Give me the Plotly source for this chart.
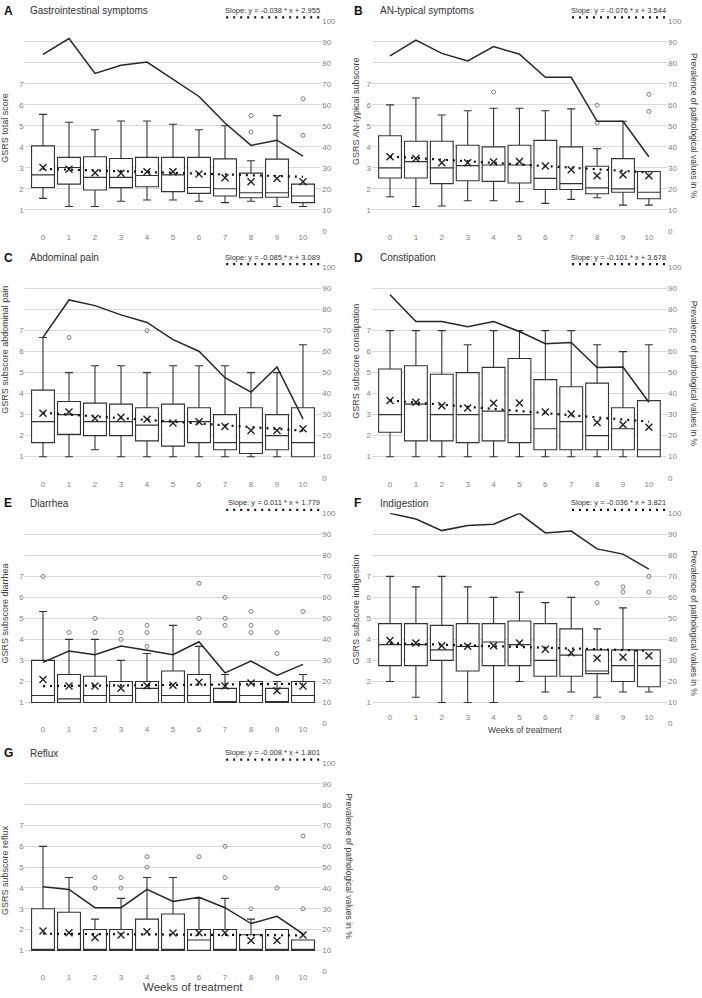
import plotly.graph_objects as go

W, H = 702, 998
weeks = list(range(11))
week_labels = [str(w) for w in weeks]

# ---------------- data ----------------
# A Gastrointestinal symptoms
A_lo = [1.55, 1.16, 1.16, 1.41, 1.47, 1.47, 1.41, 1.35, 1.41, 1.16, 1.16]
A_q1 = [2.07, 2.23, 1.95, 2.06, 2.10, 1.87, 1.79, 1.66, 1.58, 1.60, 1.35]
A_med = [2.67, 3.02, 2.55, 2.55, 2.64, 2.67, 2.07, 2.01, 1.82, 1.82, 1.66]
A_q3 = [4.05, 3.50, 3.53, 3.45, 3.50, 3.50, 3.50, 3.43, 2.75, 3.42, 2.23]
A_hi = [5.55, 5.17, 4.82, 5.23, 5.23, 5.08, 4.82, 5.01, 3.34, 5.49, 2.23]
A_mean = [3.02, 2.94, 2.77, 2.74, 2.82, 2.82, 2.71, 2.53, 2.34, 2.50, 2.34]
A_out_x = [8, 8, 10, 10]
A_out_y = [5.49, 4.71, 6.29, 4.55]
A_prev = [84.0, 91.6, 75.0, 78.9, 80.4, 72.2, 64.0, 51.4, 40.7, 43.2, 35.6]
A_slope, A_icpt = -0.038, 2.955

# B AN-typical symptoms
B_lo = [1.63, 1.16, 1.19, 1.44, 1.44, 1.39, 1.31, 1.50, 1.58, 1.23, 1.23]
B_q1 = [2.52, 2.52, 2.25, 2.39, 2.36, 2.28, 1.97, 1.97, 1.77, 1.84, 1.53]
B_med = [3.00, 3.30, 3.00, 3.11, 3.14, 3.14, 2.50, 2.25, 2.05, 2.00, 1.84]
B_q3 = [4.53, 4.27, 4.27, 4.08, 4.00, 4.08, 4.31, 4.00, 3.08, 3.44, 2.83]
B_hi = [6.00, 6.33, 5.52, 5.72, 5.84, 5.84, 5.72, 5.81, 3.92, 5.22, 2.83]
B_mean = [3.53, 3.45, 3.25, 3.25, 3.28, 3.31, 3.09, 2.91, 2.63, 2.67, 2.63]
B_out_x = [4, 8, 8, 10, 10]
B_out_y = [6.61, 5.98, 5.14, 6.50, 5.69]
B_prev = [83.3, 90.8, 84.5, 80.9, 87.8, 84.1, 73.1, 73.1, 52.2, 52.2, 35.3]
B_slope, B_icpt = -0.076, 3.544

# C Abdominal pain
C_lo = [1.00, 1.00, 1.33, 1.00, 1.00, 1.00, 1.00, 1.00, 1.00, 1.00, 1.00]
C_q1 = [1.67, 2.06, 2.00, 2.00, 1.75, 1.50, 1.67, 1.33, 1.15, 1.33, 1.00]
C_med = [2.67, 3.00, 2.67, 2.67, 2.50, 2.67, 2.67, 1.67, 1.67, 2.00, 1.67]
C_q3 = [4.17, 3.63, 3.55, 3.50, 3.33, 3.50, 3.33, 3.00, 3.33, 3.00, 3.33]
C_hi = [6.67, 5.00, 5.33, 5.33, 5.00, 5.33, 5.33, 5.33, 5.00, 5.00, 6.33]
C_mean = [3.07, 3.13, 2.83, 2.88, 2.78, 2.60, 2.66, 2.44, 2.25, 2.25, 2.33]
C_out_x = [1, 4]
C_out_y = [6.67, 7.00]
C_prev = [66.8, 84.6, 81.9, 77.5, 73.9, 65.7, 60.2, 47.6, 40.7, 52.7, 28.0]
C_slope, C_icpt = -0.085, 3.089

# D Constipation
D_lo = [1.00, 1.00, 1.00, 1.00, 1.00, 1.00, 1.00, 1.00, 1.00, 1.00, 1.00]
D_q1 = [2.16, 1.75, 1.75, 1.67, 1.75, 1.67, 1.33, 1.33, 1.33, 1.33, 1.00]
D_med = [3.00, 3.50, 3.00, 3.00, 3.17, 3.00, 2.33, 2.67, 2.00, 2.33, 1.33]
D_q3 = [5.17, 5.33, 4.92, 5.00, 5.25, 5.67, 4.67, 4.33, 4.50, 3.33, 3.67]
D_hi = [7.00, 7.00, 7.00, 6.33, 7.00, 7.00, 7.00, 7.00, 6.33, 6.00, 6.33]
D_mean = [3.67, 3.59, 3.43, 3.32, 3.54, 3.55, 3.13, 3.03, 2.63, 2.52, 2.40]
D_out_x = []
D_out_y = []
D_prev = [87.1, 74.3, 74.3, 71.9, 74.3, 69.6, 63.8, 64.4, 52.4, 52.7, 35.9]
D_slope, D_icpt = -0.101, 3.678

# E Diarrhea
E_lo = [1.00, 1.00, 1.00, 1.00, 1.00, 1.00, 1.00, 1.00, 1.00, 1.00, 1.00]
E_q1 = [1.00, 1.00, 1.00, 1.00, 1.00, 1.00, 1.00, 1.00, 1.00, 1.00, 1.00]
E_med = [1.33, 1.17, 1.33, 1.33, 1.67, 1.33, 1.33, 1.00, 1.33, 1.00, 1.33]
E_q3 = [3.00, 2.33, 2.25, 2.00, 2.00, 2.50, 2.33, 1.67, 2.00, 1.67, 2.00]
E_hi = [5.33, 4.00, 4.00, 3.00, 3.33, 4.67, 3.67, 2.33, 2.00, 2.00, 2.33]
E_mean = [2.09, 1.78, 1.78, 1.67, 1.80, 1.82, 1.96, 1.78, 1.93, 1.56, 1.78]
E_out_x = [0, 1, 2, 2, 3, 3, 4, 4, 4, 6, 6, 6, 7, 7, 7, 8, 8, 8, 9, 9, 10]
E_out_y = [7.00, 4.33, 4.33, 5.00, 4.00, 4.33, 3.67, 4.33, 4.67, 4.33, 5.00, 6.67,
           4.67, 5.00, 6.00, 4.33, 4.67, 5.33, 3.33, 4.33, 5.33]
E_prev = [29.1, 34.5, 32.7, 36.9, 34.8, 32.7, 38.9, 24.1, 29.7, 22.9, 28.1]
E_slope, E_icpt = 0.011, 1.779

# F Indigestion
F_lo = [2.00, 1.25, 1.00, 1.00, 1.00, 2.00, 1.50, 1.50, 1.25, 1.50, 1.50]
F_q1 = [2.75, 2.75, 3.00, 2.50, 2.75, 2.75, 2.25, 2.25, 2.37, 2.00, 1.75]
F_med = [3.75, 3.75, 3.50, 3.67, 3.88, 3.75, 3.00, 3.25, 2.50, 2.75, 2.75]
F_q3 = [4.75, 4.75, 4.67, 4.75, 4.75, 4.88, 4.75, 4.50, 3.50, 3.50, 3.50]
F_hi = [7.00, 6.50, 7.00, 6.50, 6.00, 6.25, 5.75, 6.00, 4.50, 5.50, 3.50]
F_mean = [3.95, 3.83, 3.70, 3.67, 3.70, 3.83, 3.53, 3.36, 3.10, 3.15, 3.22]
F_out_x = [8, 8, 9, 9, 10, 10]
F_out_y = [5.75, 6.67, 6.25, 6.50, 6.25, 7.00]
F_prev = [100.0, 97.3, 91.8, 94.2, 94.8, 100.0, 90.7, 91.6, 83.1, 80.6, 73.5]
F_slope, F_icpt = -0.036, 3.821

# G Reflux
G_lo = [1.00, 1.00, 1.00, 1.00, 1.00, 1.00, 1.00, 1.00, 1.00, 1.00, 1.00]
G_q1 = [1.00, 1.00, 1.00, 1.00, 1.00, 1.00, 1.00, 1.00, 1.00, 1.00, 1.00]
G_med = [1.00, 1.00, 1.00, 1.00, 1.00, 1.00, 1.50, 1.00, 1.00, 1.00, 1.00]
G_q3 = [3.00, 2.83, 2.00, 2.00, 2.50, 2.75, 2.00, 2.00, 1.75, 2.00, 1.50]
G_hi = [6.00, 4.50, 2.50, 3.50, 4.50, 4.50, 3.50, 3.50, 2.50, 2.00, 1.50]
G_mean = [1.93, 1.85, 1.62, 1.74, 1.90, 1.84, 1.85, 1.85, 1.47, 1.47, 1.74]
G_out_x = [2, 2, 3, 3, 4, 4, 6, 7, 7, 8, 9, 10, 10]
G_out_y = [4.00, 4.50, 4.00, 4.50, 5.00, 5.50, 5.50, 4.50, 6.00, 3.00, 4.00, 3.00, 6.50]
G_prev = [40.6, 39.3, 30.5, 30.5, 39.3, 33.5, 35.5, 30.5, 22.9, 26.4, 17.9]
G_slope, G_icpt = -0.008, 1.801

letters = ["A", "B", "C", "D", "E", "F", "G"]
titles = ["Gastrointestinal symptoms", "AN-typical symptoms", "Abdominal pain",
          "Constipation", "Diarrhea", "Indigestion", "Reflux"]
ytitles = ["GSRS total score", "GSRS AN-typical subscore", "GSRS subscore abdominal pain",
           "GSRS subscore constipation", "GSRS subscore diarrhea", "GSRS subscore indigestion",
           "GSRS subscore reflux"]
right_title = "Prevalence of pathological values in %"
x_title = "Weeks of treatment"
score_ticks = list(range(0, 11))
score_text = ["", "1", "2", "3", "4", "5", "6", "7", "", "", ""]
prev_ticks = list(range(0, 101, 10))

panels = [
    (A_lo, A_q1, A_med, A_q3, A_hi, A_mean, A_out_x, A_out_y, A_prev, A_slope, A_icpt),
    (B_lo, B_q1, B_med, B_q3, B_hi, B_mean, B_out_x, B_out_y, B_prev, B_slope, B_icpt),
    (C_lo, C_q1, C_med, C_q3, C_hi, C_mean, C_out_x, C_out_y, C_prev, C_slope, C_icpt),
    (D_lo, D_q1, D_med, D_q3, D_hi, D_mean, D_out_x, D_out_y, D_prev, D_slope, D_icpt),
    (E_lo, E_q1, E_med, E_q3, E_hi, E_mean, E_out_x, E_out_y, E_prev, E_slope, E_icpt),
    (F_lo, F_q1, F_med, F_q3, F_hi, F_mean, F_out_x, F_out_y, F_prev, F_slope, F_icpt),
    (G_lo, G_q1, G_med, G_q3, G_hi, G_mean, G_out_x, G_out_y, G_prev, G_slope, G_icpt),
]

# ---------------- layout geometry (screen pixels) ----------------
col_px = [(24.8, 321.2), (371.9, 667.0)]
row_px = [(17, 229), (266, 478), (514, 726), (766, 976)]
ytitle_cy = [125, 108, 349, 361, 615, 611, 874]
FONT = "Liberation Sans, Arial, sans-serif"
GRAY = "#7f7f7f"
DARK = "#333333"
BOXC = "#333333"


def px_x(v):
    return v / W


def px_y(v):
    return 1 - v / H


fig = go.Figure()
layout = dict(width=W, height=H, margin=dict(l=0, r=0, t=0, b=0),
              paper_bgcolor="white", plot_bgcolor="white",
              font=dict(family=FONT, color=DARK), showlegend=False)
annotations = []
shapes = []

for i, (lo, q1, med, q3, hi, mean, ox, oy, prev, slope, icpt) in enumerate(panels):
    col, row = i % 2, i // 2
    x0, x1 = col_px[col]
    top, bot = row_px[row]
    xname = "x" if i == 0 else f"x{i + 1}"
    yl = "y" if i == 0 else f"y{2 * i + 1}"
    yr = f"y{2 * i + 2}"
    xkey = "xaxis" if i == 0 else f"xaxis{i + 1}"
    ylkey = "yaxis" if i == 0 else f"yaxis{2 * i + 1}"
    yrkey = f"yaxis{2 * i + 2}"

    xax = dict(domain=[px_x(x0), px_x(x1)], anchor=yl, range=[-0.7, 10.7],
               tickvals=weeks, ticktext=week_labels, showgrid=False,
               zeroline=False, showline=False, ticks="",
               tickfont=dict(size=8, color=GRAY, family=FONT))
    if letters[i] == "F":
        # in panel F the week labels sit just above the bottom gridline
        xax.update(anchor="free", position=px_y(713))
    layout[xkey] = xax
    layout[ylkey] = dict(domain=[px_y(bot), px_y(top)], anchor=xname, range=[0, 10],
                         tickvals=score_ticks, ticktext=score_text, showgrid=True,
                         gridcolor="#d9d9d9", gridwidth=1, zeroline=False,
                         showline=False, ticks="",
                         tickfont=dict(size=8, color=GRAY, family=FONT))
    layout[yrkey] = dict(overlaying=yl, side="right", anchor=xname, range=[0, 100],
                         tickvals=prev_ticks, showgrid=False, zeroline=False,
                         showline=False, ticks="",
                         tickfont=dict(size=8, color=GRAY, family=FONT))

    fig.add_trace(go.Box(x=weeks, q1=q1, median=med, q3=q3, lowerfence=lo,
                         upperfence=hi, xaxis=xname, yaxis=yl, width=0.88,
                         whiskerwidth=0.35, boxpoints=False, fillcolor="white",
                         line=dict(color=BOXC, width=1.1), hoverinfo="skip"))
    if ox:
        fig.add_trace(go.Scatter(x=ox, y=oy, mode="markers", xaxis=xname, yaxis=yl,
                                 marker=dict(symbol="circle-open", size=4,
                                             color="#808080", line=dict(width=1)),
                                 hoverinfo="skip"))
    tx = [weeks[0], weeks[-1]]
    fig.add_trace(go.Scatter(x=tx, y=[slope * t + icpt for t in tx], mode="lines",
                             xaxis=xname, yaxis=yl,
                             line=dict(color="#111111", width=2.2, dash="2px,5px"),
                             hoverinfo="skip"))
    fig.add_trace(go.Scatter(x=weeks, y=mean, mode="markers", xaxis=xname, yaxis=yl,
                             marker=dict(symbol="x-thin-open", size=7, color="#222222",
                                         line=dict(width=1.4, color="#222222")),
                             hoverinfo="skip"))
    fig.add_trace(go.Scatter(x=weeks, y=prev, mode="lines", xaxis=xname, yaxis=yr,
                             line=dict(color="#262626", width=1.5), hoverinfo="skip"))

    # titles
    ty = top - 10
    lx = 2 if col == 0 else 352
    tx0 = 28 if col == 0 else 378
    annotations.append(dict(text=f"<b>{letters[i]}</b>", x=px_x(lx), y=px_y(ty),
                            xref="paper", yref="paper", xanchor="left", yanchor="middle",
                            showarrow=False, font=dict(size=12, color="#111111", family=FONT)))
    annotations.append(dict(text=titles[i], x=px_x(tx0), y=px_y(ty),
                            xref="paper", yref="paper", xanchor="left", yanchor="middle",
                            showarrow=False, font=dict(size=10, color=DARK, family=FONT)))
    sign = "-" if slope < 0 else ""
    slope_txt = f"Slope: y = {sign}{abs(slope):.3f} * x + {icpt:.3f}"
    annotations.append(dict(text=slope_txt, x=px_x(x1 + 1), y=px_y(ty - 0.5),
                            xref="paper", yref="paper", xanchor="right", yanchor="middle",
                            showarrow=False, font=dict(size=7.5, color=DARK, family=FONT)))
    shapes.append(dict(type="line", xref="paper", yref="paper",
                       x0=px_x(x1 - 95), x1=px_x(x1 + 1), y0=px_y(ty + 6.5), y1=px_y(ty + 6.5),
                       line=dict(color="#111111", width=2.2, dash="2px,5px")))
    # left axis title
    annotations.append(dict(text=ytitles[i], x=px_x(5 if col == 0 else 356),
                            y=px_y(ytitle_cy[i]), xref="paper", yref="paper",
                            xanchor="center", yanchor="middle", textangle=-90,
                            showarrow=False, font=dict(size=9, color="#404040", family=FONT)))

# right axis titles
for cx, cy in [(694, 123), (694, 373), (694, 625), (349, 870)]:
    annotations.append(dict(text=right_title, x=px_x(cx), y=px_y(cy), xref="paper",
                            yref="paper", xanchor="center", yanchor="middle", textangle=90,
                            showarrow=False, font=dict(size=8.5, color="#404040", family=FONT)))
# x axis titles
annotations.append(dict(text=x_title, x=px_x(525), y=px_y(733), xref="paper", yref="paper",
                        xanchor="center", yanchor="middle", showarrow=False,
                        font=dict(size=8.5, color="#404040", family=FONT)))
annotations.append(dict(text=x_title, x=px_x(193), y=px_y(992), xref="paper", yref="paper",
                        xanchor="center", yanchor="middle", showarrow=False,
                        font=dict(size=11.5, color="#404040", family=FONT)))

layout["annotations"] = annotations
layout["shapes"] = shapes
fig.update_layout(**layout)
fig.write_html("out.html", config={"displayModeBar": False, "staticPlot": True},
               post_script="document.body.style.margin='0px';document.body.style.overflow='hidden';")
